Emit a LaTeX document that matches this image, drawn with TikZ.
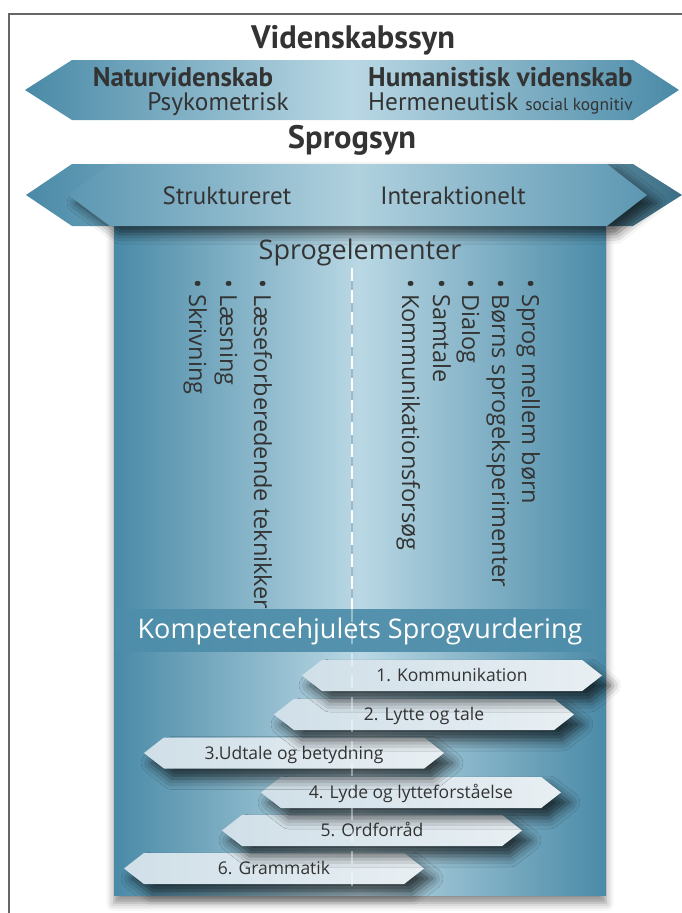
\documentclass[tikz,border=0pt]{standalone}
\usepackage{fontspec}
\setmainfont{Open Sans}
\newfontfamily\ptsans{PT Sans}
\usetikzlibrary{shapes.symbols,shadows.blur}
\definecolor{tealdark}{HTML}{4A8AA7}
\definecolor{teallight}{HTML}{BAD8E4}
\definecolor{tealfront}{HTML}{5C97B2}
\definecolor{bandlight}{HTML}{B0D1DE}
\definecolor{hexleft}{HTML}{D0DFE8}
\definecolor{hexright}{HTML}{E8EFF3}
\definecolor{kband}{HTML}{4F8EAA}
\definecolor{txt}{HTML}{333333}
\definecolor{framegray}{HTML}{666666}
\definecolor{dashblue}{HTML}{9DB8CE}
\begin{document}
\begin{tikzpicture}[x=1pt,y=-1pt,
  title/.style={anchor=base, inner sep=0pt, text=txt, font=\ptsans\bfseries\fontsize{32.5}{36}\selectfont},
  headbold/.style={anchor=base, inner sep=0pt, text=txt, font=\ptsans\bfseries\fontsize{27}{30}\selectfont},
  headreg/.style={anchor=base, inner sep=0pt, text=txt, font=\ptsans\fontsize{25.3}{28}\selectfont},
  item/.style={rotate=-90, anchor=west, inner sep=0pt, text height=17pt, text depth=5pt, text=txt, font=\fontsize{23.5}{28}\selectfont},
  hexbox/.style={shape=signal, signal to=west and east, signal pointer angle=76, minimum width=300pt, minimum height=31pt, inner sep=0pt, text height=12.5pt, text depth=0pt, left color=hexleft, right color=hexright, text=txt, font=\fontsize{17.5}{20}\selectfont, blur shadow={shadow xshift=8pt, shadow yshift=-10pt, shadow blur radius=11pt, shadow opacity=70}}]
\useasboundingbox (0,0) rectangle (682,913);
\draw[framegray, line width=1.5pt] (9,925) -- (9,14) -- (690,14);
\shade[left color=tealdark, right color=tealdark, middle color=teallight, blur shadow={shadow xshift=0pt, shadow yshift=-8pt, shadow blur radius=8pt, shadow opacity=45}] (114,226) rectangle (606,895);
\shade[left color=tealdark, right color=tealdark, middle color=teallight] (25,90) -- (72,60) -- (633,60) -- (679,90) -- (633,120) -- (72,120) -- cycle;
\shade[left color=tealdark, right color=tealdark!80!black, middle color=bandlight] (26,195) -- (72,164) -- (633,164) -- (682,195) -- (633,226) -- (72,226) -- cycle;
\shade[left color=tealfront, right color=tealfront, middle color=bandlight, blur shadow={shadow xshift=9pt, shadow yshift=-8pt, shadow blur radius=10pt, shadow opacity=65}] (68,195) -- (110,164) -- (607,164) -- (647,195) -- (607,226) -- (110,226) -- cycle;
\node (vs) at (353,48) [title] {Videnskabssyn};
\node (nat) at (183,86) [headbold] {Naturvidenskab};
\node (psy) at (218,110) [headreg] {Psykometrisk};
\node (hum) at (368,86) [headbold, anchor=base west] {Humanistisk videnskab};
\node (her) at (368,110) [headreg, anchor=base west] {Hermeneutisk {\fontsize{17.4}{20}\selectfont social kognitiv}};
\node (ss) at (352,148) [title] {Sprogsyn};
\node (str) at (227,204) [headreg, font=\ptsans\fontsize{25}{28}\selectfont] {Struktureret};
\node (int) at (453,204) [headreg, font=\ptsans\fontsize{25}{28}\selectfont] {Interaktionelt};
\node (se) at (360,259) [anchor=base, text=txt, font=\fontsize{27}{30}\selectfont] {Sprogelementer};
\coordinate (dtop) at (352,268);
\coordinate (dmid) at (352,609);
\coordinate (dbot) at (352,895);
\draw[dashblue, line width=1.2pt] (dtop) -- (dmid);
\draw[white, line width=1.8pt, dash pattern=on 13pt off 9pt] (dtop) -- (dmid);
\node (laf) at (260,279) [item] {\textbullet\ Læseforberedende teknikker};
\node (lae) at (226,279) [item] {\textbullet\ Læsning};
\node (skr) at (195,279) [item] {\textbullet\ Skrivning};
\node (sml) at (528,279) [item] {\textbullet\ Sprog mellem børn};
\node (bse) at (498,279) [item] {\textbullet\ Børns sprogeksperimenter};
\node (dia) at (468,279) [item] {\textbullet\ Dialog};
\node (sam) at (439,279) [item] {\textbullet\ Samtale};
\node (kom) at (408,279) [item] {\textbullet\ Kommunikationsforsøg};
\fill[kband, opacity=0.95] (116,609) rectangle (606,652);
\node (ks) at (360,638) [anchor=base, text=white, font=\fontsize{27}{30}\selectfont] {Kompetencehjulets Sprogvurdering};
\node (h6) at (274,868.5) [hexbox] {6. Grammatik};
\node (h5) at (372,830.5) [hexbox] {5. Ordforråd};
\node (h4) at (411,792.5) [hexbox] {4. Lyde og lytteforståelse};
\node (h3) at (294,753) [hexbox] {3.Udtale og betydning};
\node (h2) at (424,714.5) [hexbox] {2. Lytte og tale};
\node (h1) at (452,675.5) [hexbox] {1. Kommunikation};
\draw[white, opacity=0.4, line width=1.4pt, dash pattern=on 13pt off 9pt] (dmid) -- (dbot);
\end{tikzpicture}
\end{document}
